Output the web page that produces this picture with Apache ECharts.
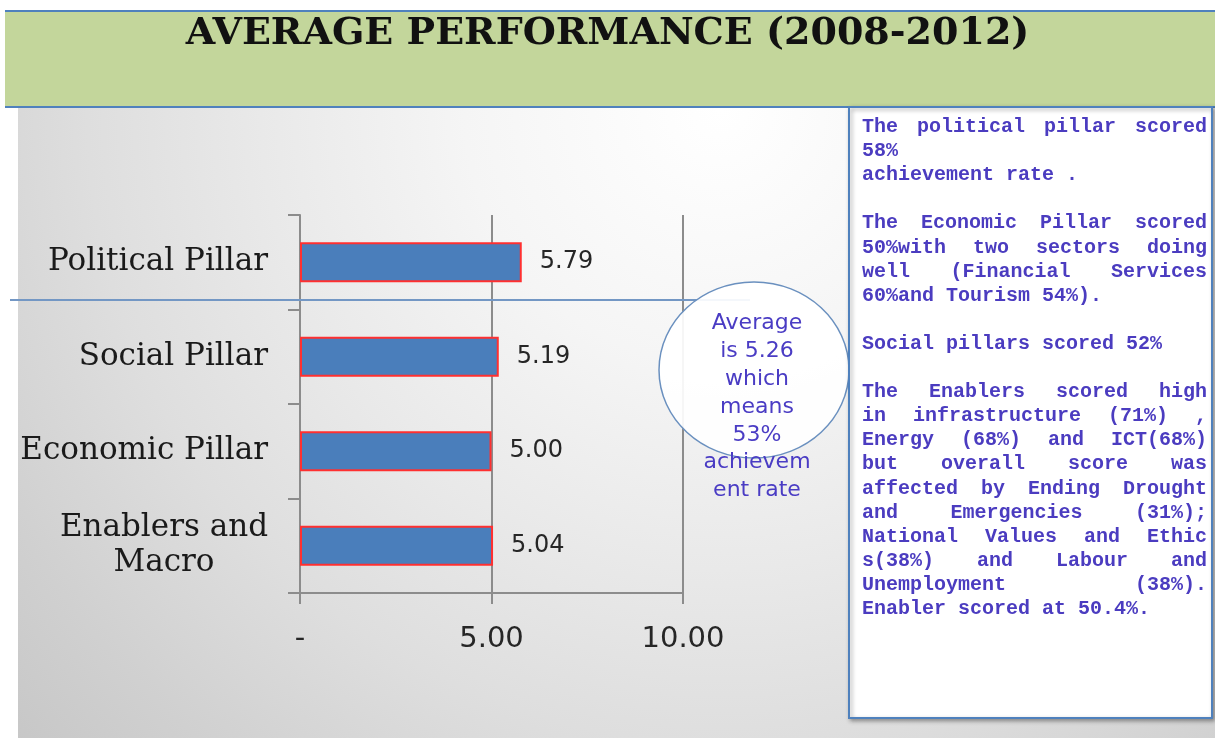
<!DOCTYPE html>
<html>
<head>
<meta charset="utf-8">
<script src="https://cdn.jsdelivr.net/npm/echarts@6/dist/echarts.min.js"></script>
<style>
html, body { margin: 0; padding: 0; background: #fff; }
#main { width: 1215px; height: 738px; }
</style>
</head>
<body>
<div id="main"></div>
<script>
// chart data
var categories = ['Political Pillar', 'Social Pillar', 'Economic Pillar', 'Enablers and\nMacro'];
var scores = [5.79, 5.19, 5.00, 5.04];
var axisMin = 0;
var axisMax = 10;
var axisStep = 5;

// annotation texts
var circleLines = ['Average', 'is 5.26', 'which', 'means', '53%', 'achievem', 'ent rate'];
// [text, justified]
var noteLines = [
	['The political pillar scored', true],
	['58%', false],
	['achievement rate .', false],
	['', false],
	['The Economic Pillar scored', true],
	['50%with two sectors doing', true],
	['well (Financial Services', true],
	['60%and Tourism 54%).', false],
	['', false],
	['Social pillars scored 52%', false],
	['', false],
	['The Enablers scored high', true],
	['in infrastructure (71%) ,', true],
	['Energy (68%) and ICT(68%)', true],
	['but overall score was', true],
	['affected by Ending Drought', true],
	['and Emergencies (31%);', true],
	['National Values and Ethic', true],
	['s(38%) and Labour and', true],
	['Unemployment (38%).', true],
	['Enabler scored at 50.4%.', false]
];

var noteFont = 'bold 20px "Liberation Mono"';
var noteColor = '#4b3cc0';
var measureCtx = document.createElement('canvas').getContext('2d');
measureCtx.font = noteFont;

function noteGraphics() {
	var out = [];
	var left = 862, right = 1207, top = 127, step = 24.1;
	for (var i = 0; i < noteLines.length; i++) {
		var txt = noteLines[i][0];
		if (!txt) continue;
		var y = top + i * step;
		if (!noteLines[i][1]) {
			out.push({
				type: 'text', x: left, y: y, z: 20,
				style: { text: txt, font: noteFont, fill: noteColor, verticalAlign: 'middle', textVerticalAlign: 'middle' }
			});
			continue;
		}
		var words = txt.split(' ');
		var total = 0;
		for (var j = 0; j < words.length; j++) total += measureCtx.measureText(words[j]).width;
		var gap = (right - left - total) / (words.length - 1);
		var x = left;
		for (var k = 0; k < words.length; k++) {
			out.push({
				type: 'text', x: x, y: y, z: 20,
				style: { text: words[k], font: noteFont, fill: noteColor, verticalAlign: 'middle', textVerticalAlign: 'middle' }
			});
			x += measureCtx.measureText(words[k]).width + gap;
		}
	}
	return out;
}

var chartDom = document.getElementById('main');
var myChart = echarts.init(chartDom);

var graphics = [
	// gray backdrop
	{
		type: 'rect', z: -20, silent: true,
		shape: { x: 18, y: 108, width: 1197, height: 630 },
		style: {
			fill: {
				type: 'radial', x: 720, y: 110, r: 1020, global: true,
				colorStops: [
					{ offset: 0, color: '#ffffff' },
					{ offset: 0.25, color: '#f5f5f5' },
					{ offset: 0.45, color: '#e9e9e9' },
					{ offset: 0.62, color: '#dedede' },
					{ offset: 0.8, color: '#d0d0d0' },
					{ offset: 1, color: '#c2c2c2' }
				]
			}
		}
	},
	// title banner
	{
		type: 'rect', z: -15, silent: true,
		shape: { x: 5, y: 10, width: 1210, height: 97 },
		style: { fill: '#c3d69b' }
	},
	{ type: 'line', z: -14, shape: { x1: 5, y1: 11, x2: 1215, y2: 11 }, style: { stroke: '#4f81bd', lineWidth: 2 } },
	{ type: 'line', z: -14, shape: { x1: 5, y1: 107, x2: 1215, y2: 107 }, style: { stroke: '#4f81bd', lineWidth: 2 } },
	// separator line
	{ type: 'line', z: 8, shape: { x1: 10, y1: 300, x2: 750, y2: 300 }, style: { stroke: '#7397c4', lineWidth: 2 } },
	// circle callout
	{
		type: 'ellipse', z: 9,
		shape: { cx: 754, cy: 370, rx: 95, ry: 88 },
		style: { fill: 'rgba(255,255,255,0.92)', stroke: '#6a90bf', lineWidth: 1.5 }
	},
	{
		type: 'text', z: 10, x: 757, y: 407,
		style: {
			text: circleLines.join('\n'),
			font: '22px "DejaVu Sans"',
			lineHeight: 27.8,
			fill: '#4a3cc4',
			align: 'center', textAlign: 'center',
			verticalAlign: 'middle', textVerticalAlign: 'middle'
		}
	},
	// text panel
	{
		type: 'rect', z: 15,
		shape: { x: 849, y: 107, width: 363, height: 611 },
		style: { fill: '#ffffff', stroke: '#4f81bd', lineWidth: 2, shadowBlur: 4, shadowOffsetX: 2, shadowOffsetY: 2, shadowColor: 'rgba(0,0,0,0.35)' }
	}
].concat(noteGraphics());

myChart.setOption({
	backgroundColor: '#ffffff',
	title: {
		text: 'AVERAGE PERFORMANCE (2008-2012)',
		left: 'center',
		top: 10,
		textStyle: {
			fontFamily: 'DejaVu Serif',
			fontWeight: 'bold',
			fontSize: 38,
			color: '#111111'
		}
	},
	grid: {
		left: 300,
		right: 532,
		top: 215,
		bottom: 145
	},
	xAxis: {
		type: 'value',
		min: axisMin,
		max: axisMax,
		interval: axisStep,
		axisLine: { show: true, lineStyle: { color: '#8c8c8c', width: 2 } },
		axisTick: { show: true, length: 11, lineStyle: { color: '#8c8c8c', width: 2 } },
		splitLine: { show: true, lineStyle: { color: '#8c8c8c', width: 2 } },
		axisLabel: {
			margin: 32,
			fontFamily: 'DejaVu Sans',
			fontSize: 29,
			color: '#262626',
			formatter: function(v) {
				return v === 0 ? '-' : v.toFixed(2);
			}
		}
	},
	yAxis: {
		type: 'category',
		inverse: true,
		data: categories,
		axisLine: { show: true, lineStyle: { color: '#8c8c8c', width: 2 } },
		axisTick: { show: true, length: 12, lineStyle: { color: '#8c8c8c', width: 2 } },
		splitLine: { show: false },
		axisLabel: {
			margin: 32,
			align: 'right',
			formatter: function(v) {
				var parts = v.split('\n');
				var s = '{a|' + parts[0] + '}';
				for (var i = 1; i < parts.length; i++) s += '\n{c|' + parts[i] + '}';
				return s;
			},
			rich: {
				a: { fontFamily: 'DejaVu Serif', fontSize: 31, color: '#1a1a1a', lineHeight: 35 },
				c: { fontFamily: 'DejaVu Serif', fontSize: 31, color: '#1a1a1a', lineHeight: 35, align: 'center' }
			}
		}
	},
	series: [{
		type: 'bar',
		data: scores,
		barWidth: 40,
		itemStyle: {
			color: '#4a7ebb',
			borderColor: '#ff3030',
			borderWidth: 2
		},
		label: {
			show: true,
			position: 'right',
			distance: 18,
			fontFamily: 'DejaVu Sans',
			fontSize: 24,
			color: '#262626',
			formatter: function(p) {
				return p.value.toFixed(2);
			}
		}
	}],
	graphic: graphics
});
</script>
</body>
</html>
